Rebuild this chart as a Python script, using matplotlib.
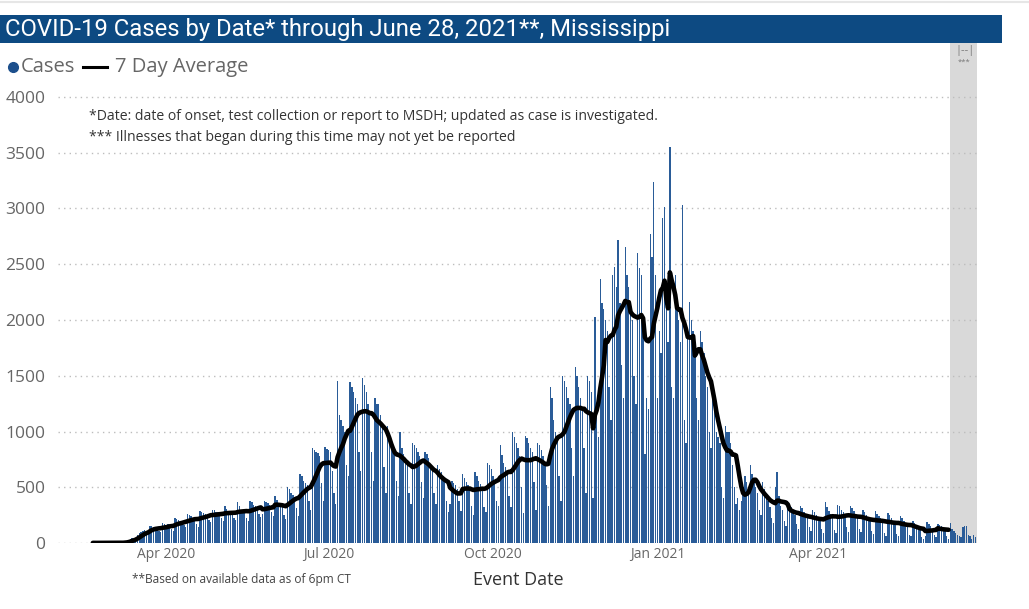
import matplotlib
matplotlib.use("Agg")
import matplotlib.pyplot as plt
from matplotlib.patches import Rectangle
from matplotlib.lines import Line2D
import pandas as pd

# daily cases by event date (starts Sat Feb 1 2020)
cases_2020_02 = [3, 0, 4, 0, 3, 0, 4, 0, 0, 3, 0, 4, 0, 3, 0, 0, 4, 0, 0, 1,
                 0, 1, 1, 0, 1, 2, 1, 1, 2]
cases_2020_03 = [1, 2, 2, 3, 2, 3, 1, 1, 10, 15, 25, 35, 45, 40, 40,
                 75, 90, 100, 105, 115, 95, 85, 150, 155, 145, 140, 135, 110, 95,
                 175, 170]
cases_2020_04 = [165, 170, 160, 125, 110, 225, 215, 205, 195, 190, 160, 140,
                 260, 250, 240, 225, 220, 170, 145, 290, 280, 270, 260, 250, 210, 185,
                 300, 295, 280, 275]
cases_2020_05 = [265, 220, 200, 330, 305, 290, 280, 270, 220, 210,
                 365, 330, 300, 295, 280, 225, 200, 380, 370, 345, 330, 320, 260, 230,
                 260, 380, 370, 360, 345, 280, 245]
cases_2020_06 = [420, 390, 360, 345, 330, 250, 215, 500, 480, 450, 430, 410, 310, 240,
                 620, 600, 560, 540, 520, 380, 300, 850, 830, 820, 810, 780, 540, 380,
                 860, 840]
cases_2020_07 = [830, 820, 650, 450, 350, 1450, 1150, 1100, 1050, 1000, 700, 600,
                 1440, 1400, 1350, 1300, 1250, 820, 650, 1480, 1420, 1350, 1250, 1180, 820, 560,
                 1300, 1250, 1250, 1150, 1050]
cases_2020_08 = [680, 450, 1050, 950, 900, 850, 800, 560, 420,
                 1000, 850, 800, 720, 700, 450, 350, 900, 880, 850, 820, 780, 550, 400,
                 820, 800, 760, 700, 650, 450, 350, 700]
cases_2020_09 = [660, 640, 600, 560, 380, 280, 350, 560, 540, 520, 480, 380, 290,
                 620, 580, 550, 520, 480, 330, 250, 640, 600, 560, 530, 500, 320, 280,
                 720, 700, 660]
cases_2020_10 = [600, 560, 380, 330, 880, 790, 720, 680, 650, 420, 320,
                 1000, 950, 900, 850, 780, 500, 270, 960, 940, 900, 850, 820, 550, 300,
                 900, 880, 830, 780, 730, 520]
cases_2020_11 = [330, 1400, 1300, 1100, 1000, 950, 600, 380,
                 1500, 1450, 1400, 1300, 1250, 850, 600, 1580, 1500, 1400, 1300, 1200, 850, 450,
                 1500, 1450, 1350, 400, 2024, 1150, 950, 2365]
cases_2020_12 = [2155, 2100, 2000, 1900, 1400, 1100, 2400, 2478, 2300, 2718, 2150, 1600, 1300,
                 2652, 2400, 2300, 2100, 2000, 1500, 1250, 2600, 2464, 2400, 1900, 800, 1300, 1200,
                 2768, 2568, 3235, 2400]
cases_2021_01 = [1300, 1900, 1700, 2918, 3016, 2100, 1800, 3554, 1400, 1300,
                 2400, 2200, 2000, 1800, 3031, 1100, 900, 1900, 2164, 2000, 1900, 1800, 1300, 1100,
                 1900, 1800, 1700, 1500, 1400, 1000, 850]
cases_2021_02 = [1300, 1200, 1000, 950, 900, 500, 400, 1050, 1000, 998, 900, 700, 500, 350,
                 400, 300, 380, 500, 600, 550, 450, 700, 620, 550, 500, 450, 300, 250]
cases_2021_03 = [550, 480, 420, 380, 320, 220, 180, 500, 640, 420, 330, 300, 200, 150,
                 380, 350, 320, 280, 250, 170, 130, 330, 310, 280, 250, 220, 140, 110,
                 300, 280, 250]
cases_2021_04 = [230, 200, 130, 90, 370, 320, 290, 260, 220, 120, 90,
                 340, 330, 300, 280, 250, 140, 100, 330, 310, 290, 260, 230, 130, 95,
                 300, 280, 250, 230, 200]
cases_2021_05 = [110, 80, 290, 260, 240, 220, 190, 90, 60, 270, 250, 220, 200, 180, 80, 60,
                 240, 220, 200, 180, 160, 70, 60, 200, 180, 160, 140, 120, 50, 40, 60]
cases_2021_06 = [190, 170, 150, 130, 70, 50, 170, 160, 150, 130, 120, 60, 40,
                 180, 130, 110, 90, 70, 60, 50, 145, 150, 150, 70, 60, 40, 70, 50]

start_date = "2020-02-01"
line_start = "2020-02-20"
shade_start = "2021-06-14"
y_ticks = [0, 500, 1000, 1500, 2000, 2500, 3000, 3500, 4000]
x_ticks = ["2020-04-01", "2020-07-01", "2020-10-01", "2021-01-01", "2021-04-01"]
x_tick_labels = ["Apr 2020", "Jul 2020", "Oct 2020", "Jan 2021", "Apr 2021"]

cases = (cases_2020_02 + cases_2020_03 + cases_2020_04 + cases_2020_05 + cases_2020_06
         + cases_2020_07 + cases_2020_08 + cases_2020_09 + cases_2020_10 + cases_2020_11
         + cases_2020_12 + cases_2021_01 + cases_2021_02 + cases_2021_03 + cases_2021_04
         + cases_2021_05 + cases_2021_06)
df = pd.DataFrame({"date": pd.date_range(start_date, periods=len(cases), freq="D"),
                   "cases": cases})
df["avg7"] = df["cases"].rolling(7, min_periods=1).mean()
line = df[(df["date"] >= line_start) & (df["date"] < shade_start)]

plt.rcParams["font.family"] = ["Open Sans", "DejaVu Sans"]

W, H = 1029, 609
def fx(px):
    return px / W
def fy(py):
    return 1 - py / H

fig = plt.figure(figsize=(W / 100, H / 100), dpi=100)
ax = fig.add_axes([fx(58), fy(543), fx(977) - fx(58), fy(43) - fy(543)])

one_day = pd.Timedelta(days=1)
ax.axvspan(pd.Timestamp(shade_start) - 0.3 * one_day, df["date"].iloc[-1] + one_day,
           color="#d9d9d9", zorder=0.2, lw=0)
ax.bar(df["date"], df["cases"], width=0.75, color="#2a5c98", lw=0, zorder=2)
ax.plot(line["date"], line["avg7"], color="black", lw=3.3, zorder=3,
        solid_joinstyle="round", solid_capstyle="round")

ax.set_xlim(df["date"].iloc[0] - 0.5 * one_day, df["date"].iloc[-1] + 0.9 * one_day)
ax.set_ylim(0, 500 / 0.1115)
ax.set_yticks(y_ticks)
ax.set_yticklabels([str(v) for v in y_ticks])
ax.set_xticks(pd.to_datetime(x_ticks))
ax.set_xticklabels(x_tick_labels)
ax.yaxis.grid(True, linestyle=(0, (1, 3)), color="#bdbdbd", lw=1)
ax.set_axisbelow(True)
for s in ax.spines.values():
    s.set_visible(False)
ax.tick_params(axis="both", length=0)
ax.tick_params(axis="y", pad=9, labelsize=12.5, labelcolor="#666666")
ax.tick_params(axis="x", pad=3, labelsize=10, labelcolor="#666666")

# title bar
fig.add_artist(Rectangle((0, fy(43)), fx(1002), fy(15) - fy(43), transform=fig.transFigure,
                         color="#0d4a82", lw=0))
fig.add_artist(Line2D([0, 1], [fy(1.5), fy(1.5)], transform=fig.transFigure,
                      color="#e6e6e6", lw=1.5))
fig.text(fx(5), fy(29.5), "COVID-19 Cases by Date* through June 28, 2021**, Mississippi",
         color="white", fontsize=17.2, va="center", family=["Roboto", "DejaVu Sans"])

# legend
fig.add_artist(Line2D([fx(13)], [fy(67)], transform=fig.transFigure, marker="o",
                      ms=7, color="#1c4f8c", lw=0))
fig.text(fx(21), fy(67), "Cases", color="#666666", fontsize=14.5, va="center")
fig.add_artist(Line2D([fx(83), fx(107)], [fy(67), fy(67)], transform=fig.transFigure,
                      color="black", lw=2.2))
fig.text(fx(115), fy(67), "7 Day Average", color="#666666", fontsize=14.5, va="center")

# notes
fig.text(fx(89), fy(117), "*Date: date of onset, test collection or report to MSDH; "
         "updated as case is investigated.", color="#333333", fontsize=10.1, va="center")
fig.text(fx(89), fy(137), "*** Illnesses that began during this time may not yet be reported",
         color="#333333", fontsize=10.1, va="center")
fig.text(fx(964.5), fy(50), "|--|", color="#777777", fontsize=8, ha="center", va="center")
fig.text(fx(964.5), fy(62), "***", color="#777777", fontsize=5.5, ha="center", va="center")

fig.text(fx(518), fy(580), "Event Date", color="#333333", fontsize=13, ha="center",
         va="center")
fig.text(fx(132), fy(580), "**Based on available data as of 6pm CT", color="#444444",
         fontsize=8.6, va="center")

fig.savefig("out.png", dpi=100)
plt.close(fig)
